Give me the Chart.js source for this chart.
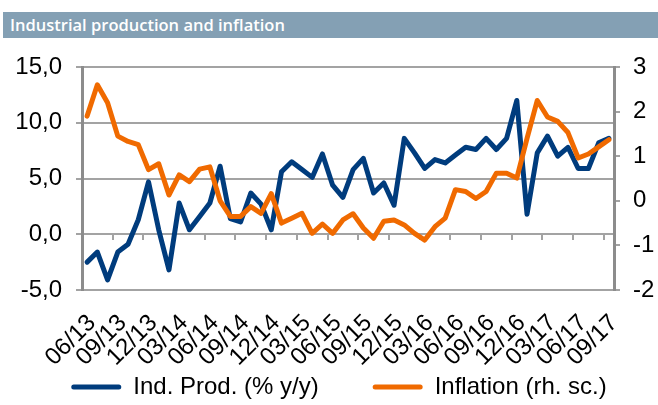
<!DOCTYPE html>
<html>
<head>
<meta charset="utf-8">
<script src="https://cdn.jsdelivr.net/npm/chart.js@4.4.1/dist/chart.umd.min.js"></script>
<style>
  html, body { margin: 0; padding: 0; background: #fff; }
  #wrap { position: relative; width: 658px; height: 405px; }
  #title {
    position: absolute; left: 3px; top: 12px; width: 655px; height: 26px;
    background: #84a0b4; color: #fff;
    font: 600 16.5px "Open Sans", sans-serif; line-height: 26px;
    padding-left: 7px; box-sizing: border-box;
  }
</style>
</head>
<body>
<div id="wrap">
  <canvas id="chart"></canvas>
  <div id="title">Industrial production and inflation</div>
</div>
<script>
  // monthly, 06/13 .. 09/17
  const months = [
    "06/13", "07/13", "08/13", "09/13", "10/13", "11/13", "12/13",
    "01/14", "02/14", "03/14", "04/14", "05/14", "06/14", "07/14", "08/14", "09/14", "10/14", "11/14", "12/14",
    "01/15", "02/15", "03/15", "04/15", "05/15", "06/15", "07/15", "08/15", "09/15", "10/15", "11/15", "12/15",
    "01/16", "02/16", "03/16", "04/16", "05/16", "06/16", "07/16", "08/16", "09/16", "10/16", "11/16", "12/16",
    "01/17", "02/17", "03/17", "04/17", "05/17", "06/17", "07/17", "08/17", "09/17"
  ]

  const indProd = [
    -2.5, -1.6, -4.1, -1.6, -0.9, 1.3, 4.7,
    0.4, -3.2, 2.8, 0.4, 1.6, 2.8, 6.1, 1.4, 1.1, 3.7, 2.7, 0.4,
    5.6, 6.5, 5.8, 5.1, 7.2, 4.4, 3.3, 5.8, 6.8, 3.7, 4.6, 2.6,
    8.6, 7.3, 5.9, 6.7, 6.4, 7.1, 7.8, 7.6, 8.6, 7.6, 8.6, 12.0,
    1.8, 7.3, 8.8, 7.0, 7.8, 5.9, 5.9, 8.2, 8.6
  ]

  const inflation = [
    1.9, 2.6, 2.2, 1.45, 1.33, 1.26, 0.7,
    0.83, 0.13, 0.58, 0.43, 0.71, 0.76, 0.0, -0.35, -0.35, -0.13, -0.28, 0.16,
    -0.5, -0.39, -0.28, -0.73, -0.52, -0.73, -0.43, -0.29, -0.61, -0.84, -0.46, -0.43,
    -0.54, -0.73, -0.88, -0.58, -0.39, 0.25, 0.21, 0.05, 0.21, 0.62, 0.62, 0.51,
    1.4, 2.25, 1.88, 1.78, 1.53, 0.96, 1.05, 1.21, 1.37
  ]

  const blue = "#003c7d"
  const orange = "#f06a00"
  const gridGray = "#a3a3a3"
  const axisGray = "#8c8c8c"
  const font = { family: "'Liberation Sans', Arial, sans-serif", size: 24 }

  new Chart(document.getElementById("chart"), {
    type: 'line',
    data: {
      labels: months,
      datasets: [
        {
          label: "Ind. Prod. (% y/y)",
          data: indProd,
          borderColor: blue,
          backgroundColor: blue,
          borderWidth: 5,
          pointRadius: 0,
          borderJoinStyle: 'round',
          borderCapStyle: 'round',
          yAxisID: 'y',
          order: 1
        },
        {
          label: "Inflation (rh. sc.)",
          data: inflation,
          borderColor: orange,
          backgroundColor: orange,
          borderWidth: 5,
          pointRadius: 0,
          borderJoinStyle: 'round',
          borderCapStyle: 'round',
          yAxisID: 'y1',
          order: 0
        }
      ]
    },
    options: {
      responsive: true,
      maintainAspectRatio: false,
      animation: false,
      layout: { padding: { top: 67, left: 12, right: -8, bottom: -4 } },
      plugins: {
        tooltip: { enabled: false },
        legend: {
          position: 'bottom',
          // empty title only used as spacer under the tick labels
          title: { display: true, text: '', font: { size: 10 }, padding: { top: 19, bottom: 0 } },
          labels: {
            font: font,
            color: '#000',
            boxWidth: 50,
            boxHeight: 5,
            padding: 54,
            useBorderRadius: true,
            borderRadius: 2.5,
            sort: (a, b) => a.datasetIndex - b.datasetIndex,
            generateLabels: (chart) => Chart.defaults.plugins.legend.labels.generateLabels(chart)
              .map(l => Object.assign(l, { lineWidth: 0, fillStyle: l.strokeStyle }))
          }
        }
      },
      scales: {
        x: {
          type: 'category',
          offset: true,
          position: { y: -5 },
          grid: { display: false, drawTicks: false },
          border: { display: false },
          ticks: {
            font: font,
            color: '#000',
            autoSkip: false,
            minRotation: 45,
            maxRotation: 45,
            padding: 19,
            labelOffset: 5,
            callback: (v, i) => i % 3 === 0 ? months[i] : ''
          }
        },
        xt: {
          type: 'category',
          offset: true,
          position: { y: 0 },
          grid: {
            offset: true,
            drawOnChartArea: false,
            tickLength: 6,
            lineWidth: 2,
            color: (ctx) => ctx.index % 3 === 0 ? gridGray : 'rgba(0,0,0,0)'
          },
          border: { display: false },
          ticks: { display: false, autoSkip: false }
        },
        y: {
          position: 'left',
          min: -5,
          max: 15,
          ticks: {
            stepSize: 5,
            font: font,
            color: '#000',
            padding: 14,
            callback: (v) => v.toFixed(1).replace('.', ',')
          },
          grid: { color: gridGray, lineWidth: 2, tickLength: 6 },
          border: { color: axisGray, width: 3 },
          afterFit: (s) => { s.width = 70 }
        },
        y1: {
          position: 'right',
          min: -2,
          max: 3,
          ticks: { stepSize: 1, font: font, color: '#000', padding: 13 },
          grid: { drawOnChartArea: false, color: gridGray, lineWidth: 2, tickLength: 6 },
          border: { color: axisGray, width: 3 },
          afterFit: (s) => { s.width = 52 }
        }
      }
    }
  });
</script>
</body>
</html>
